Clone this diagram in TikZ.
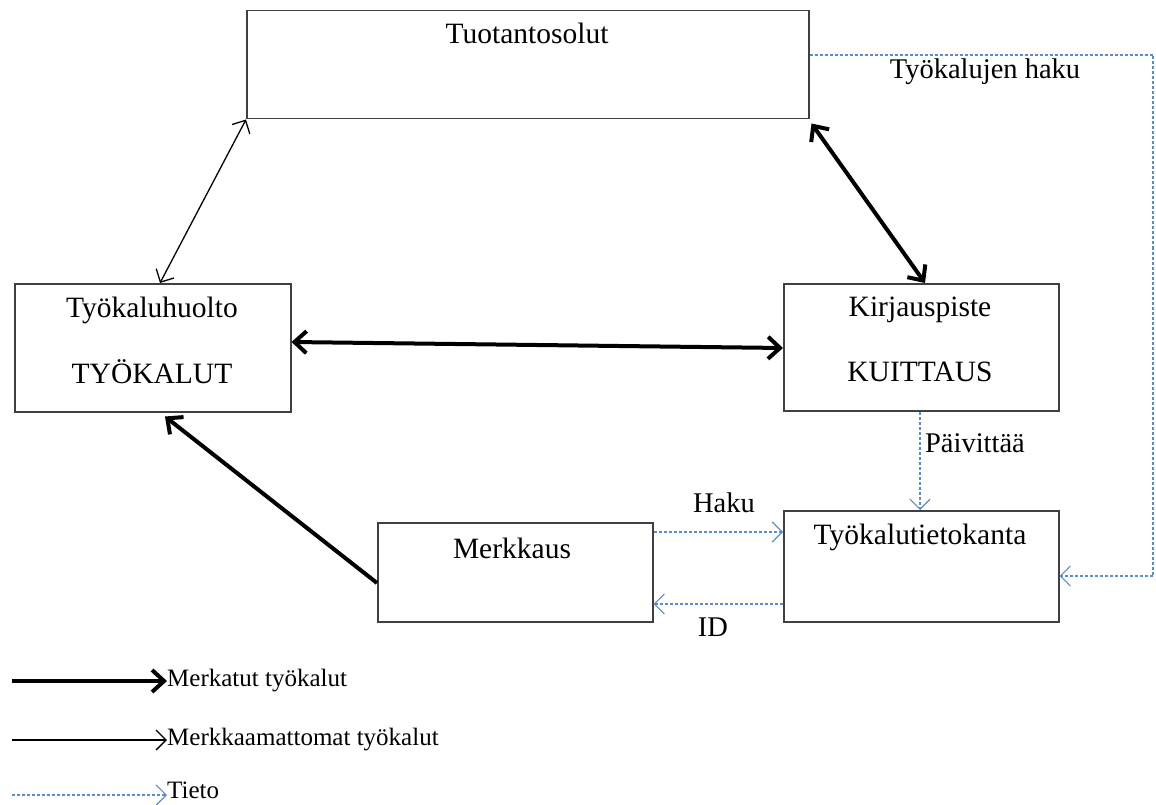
\documentclass[tikz,border=0pt]{standalone}
\usepackage{fontspec}
\setmainfont{Liberation Serif}
\usetikzlibrary{arrows.meta,calc}
\definecolor{boxline}{RGB}{64,64,64}
\definecolor{infoblue}{RGB}{91,140,205}
\tikzset{
  box/.style={draw=boxline,line width=1.5pt,rectangle,anchor=north west,inner sep=0pt},
  txt/.style={font=\fontsize{29.5}{34}\selectfont,inner sep=0pt},
  lbl/.style={font=\fontsize{28.5}{33}\selectfont,inner sep=0pt},
  legtxt/.style={font=\fontsize{25}{30}\selectfont,inner sep=0pt,anchor=west},
  thickarrow/.style={line width=4pt,-{Straight Barb[length=12pt,width=22pt,line width=4pt]}},
  thickboth/.style={line width=4pt,{Straight Barb[length=12pt,width=22pt,line width=4pt]}-{Straight Barb[length=12pt,width=22pt,line width=4pt]}},
  thinboth/.style={line width=1.3pt,{Straight Barb[length=10pt,width=20pt,line width=1.3pt]}-{Straight Barb[length=10pt,width=20pt,line width=1.3pt]}},
  thinarrow/.style={line width=1.3pt,-{Straight Barb[length=10pt,width=20pt,line width=1.3pt]}},
  infoarrow/.style={draw=infoblue,line width=1.2pt,dash pattern=on 3pt off 2pt,-{Straight Barb[length=10pt,width=20pt,line width=1.2pt]}},
}
\begin{document}
\begin{tikzpicture}[x=1pt,y=-1pt]
\useasboundingbox (0,0) rectangle (1156,805);
% boxes
\node[box,minimum width=562pt,minimum height=108pt] (tuot) at (246,10) {};
\node[txt] (tuott) at (527,33) {Tuotantosolut};
\node[box,minimum width=276pt,minimum height=128pt] (huol) at (14,283) {};
\node[txt] (huolt1) at (152,310) {Työkaluhuolto};
\node[txt] (huolt2) at (152,372) {TYÖKALUT};
\node[box,minimum width=275pt,minimum height=127pt] (kirj) at (783,283) {};
\node[txt] (kirjt1) at (920,310) {Kirjauspiste};
\node[txt] (kirjt2) at (920,372) {KUITTAUS};
\node[box,minimum width=275pt,minimum height=99pt] (merk) at (377,522) {};
\node[txt] (merkt) at (512,548) {Merkkaus};
\node[box,minimum width=275pt,minimum height=111pt] (tkan) at (783,510) {};
\node[txt] (tkant) at (920,537) {Työkalutietokanta};
% material flows
\draw[thinboth] (tuot.south west) -- (huol.north west -| 160,0);
\draw[thickboth] ($(tuot.south east)+(2,4)$) -- (kirj.north west -| 925,0);
\draw[thickboth] (huol.east |- 0,342) -- (kirj.west |- 0,348);
\draw[thickarrow] (merk.west |- 0,583) -- ($(huol.south west -| 165,0)+(0,4)$);
% information flows
\coordinate (corner1) at (1153,55);
\coordinate (corner2) at (1153,576);
\draw[infoarrow] (tuot.east |- 0,55) -- (corner1) -- (corner2) -- (tkan.east |- corner2);
\node[lbl] (lhaku2) at (985,72) {Työkalujen haku};
\draw[infoarrow] (kirj.south -| 920,0) -- (tkan.north -| 920,0);
\node[lbl] (lpaiv) at (975,443) {Päivittää};
\draw[infoarrow] (merk.east |- 0,532) -- (tkan.west |- 0,532);
\node[lbl] (lhaku) at (724,503) {Haku};
\draw[infoarrow] (tkan.west |- 0,604) -- (merk.east |- 0,604);
\node[lbl] (lid) at (713,627) {ID};
% legend
\coordinate (l1) at (12,681);
\coordinate (l2) at (12,740);
\coordinate (l3) at (12,795);
\node[legtxt] (t1) at (167,681) {Merkatut työkalut};
\node[legtxt] (t2) at (167,740) {Merkkaamattomat työkalut};
\node[legtxt] (t3) at (167,790) {Tieto};
\draw[thickarrow] (l1) -- (t1.west);
\draw[thinarrow] (l2) -- (t2.west);
\draw[infoarrow] (l3) -- (t3.west |- l3);
\end{tikzpicture}
\end{document}
